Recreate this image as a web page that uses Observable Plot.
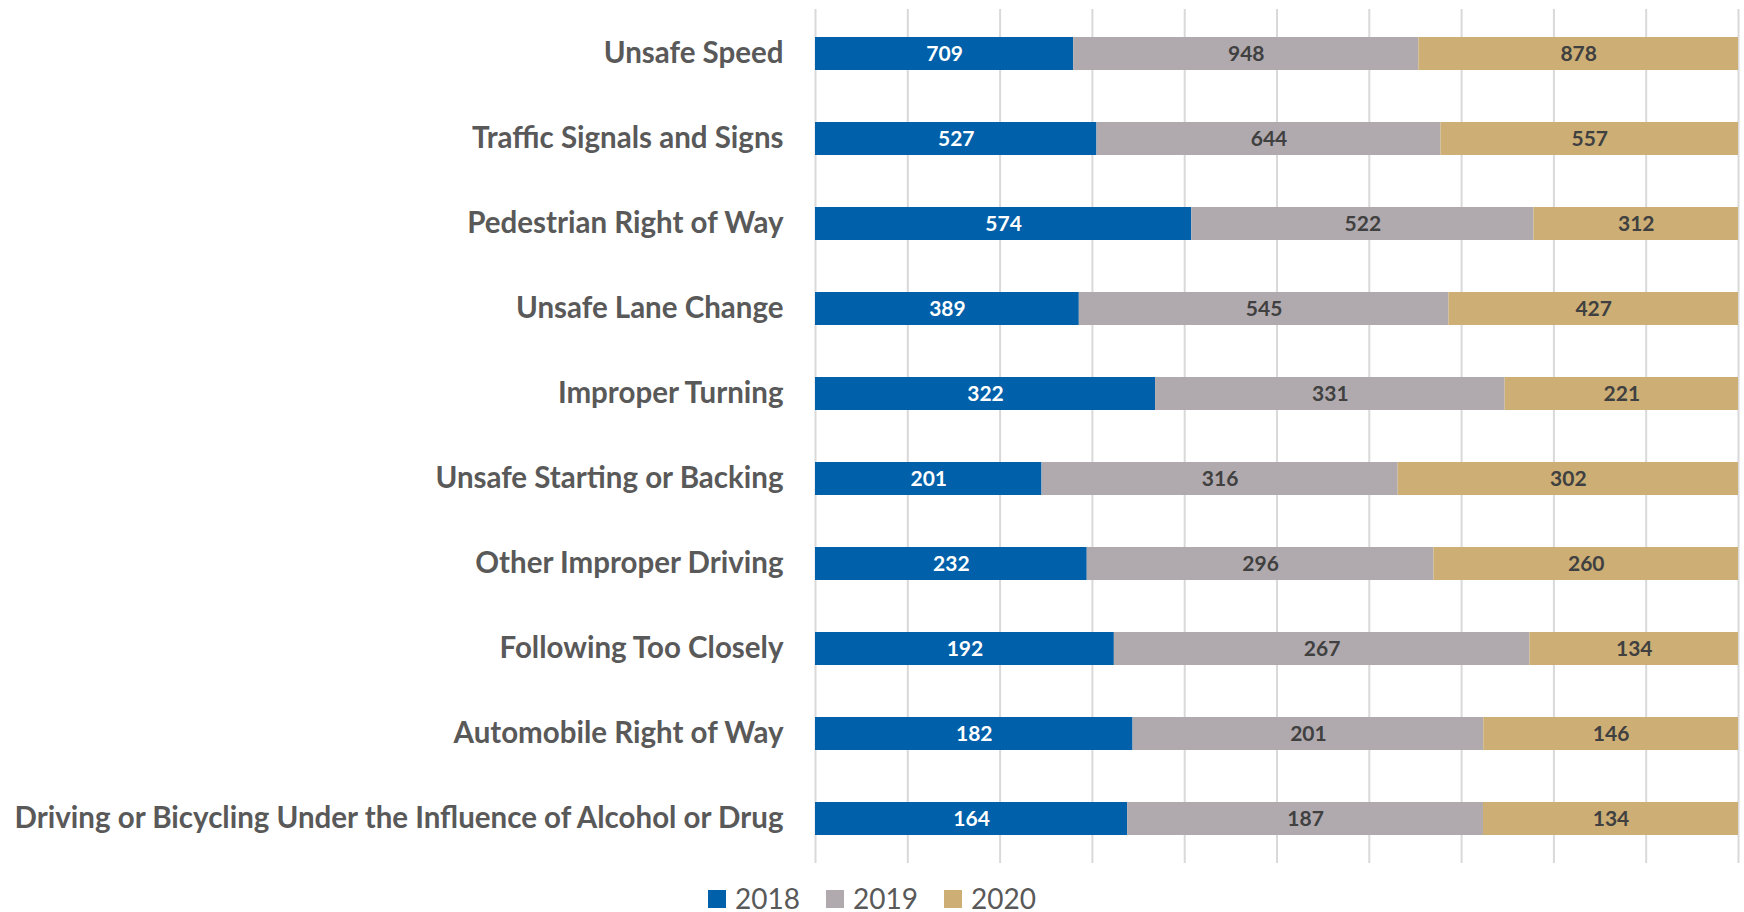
<!DOCTYPE html>
<html>
<head>
<meta charset="utf-8">
<script src="https://cdn.jsdelivr.net/npm/d3@7"></script>
<script src="https://cdn.jsdelivr.net/npm/@observablehq/plot@0.6"></script>
<style>
  html, body { margin: 0; padding: 0; background: #fff; overflow: hidden; }
  #wrap { position: relative; width: 1744px; height: 912px; }
  #legend { position: absolute; left: 0; top: 884px; width: 1744px; height: 28px;
    display: flex; justify-content: center; align-items: center;
    font-family: Lato, sans-serif; font-size: 28px; line-height: 28px; color: #595959; }
  .item { display: flex; align-items: center; margin: 0 13px; height: 28px; }
  .item span { line-height: 28px; display: block; height: 28px; }
  .sw { width: 18px; height: 18px; margin-right: 9px; position: relative; top: 1px; }
</style>
</head>
<body>
<div id="wrap"><div id="chart"></div><div id="legend"></div></div>
<script>
const categories = [
  "Unsafe Speed",
  "Traffic Signals and Signs",
  "Pedestrian Right of Way",
  "Unsafe Lane Change",
  "Improper Turning",
  "Unsafe Starting or Backing",
  "Other Improper Driving",
  "Following Too Closely",
  "Automobile Right of Way",
  "Driving or Bicycling Under the Influence of Alcohol or Drug"
];
const years = ["2018", "2019", "2020"];
const values2018 = [709, 527, 574, 389, 322, 201, 232, 192, 182, 164];
const values2019 = [948, 644, 522, 545, 331, 316, 296, 267, 201, 187];
const values2020 = [878, 557, 312, 427, 221, 302, 260, 134, 146, 134];
const colors = ["#0060A9", "#B0AAAE", "#CDAF76"];
const xTicks = [0, 0.1, 0.2, 0.3, 0.4, 0.5, 0.6, 0.7, 0.8, 0.9, 1];

const series = [values2018, values2019, values2020];
const data = [];
categories.forEach((c, i) => {
  years.forEach((y, j) => data.push({category: c, year: y, value: series[j][i]}));
});

const stack = (extra) => Plot.stackX({x: "value", y: "category", z: "year", offset: "normalize", ...extra});

const chart = Plot.plot({
  width: 1744,
  height: 866,
  marginTop: 9,
  marginBottom: 3,
  marginLeft: 815,
  marginRight: 6,
  style: {fontFamily: "Lato, sans-serif", color: "#595959", background: "white"},
  x: {domain: [0, 1], axis: null},
  y: {domain: categories, paddingInner: 0.61, paddingOuter: 0.305, label: null},
  color: {domain: years, range: colors},
  marks: [
    Plot.ruleX(xTicks, {x: d => d, stroke: "#D9D9D9", strokeWidth: 2}),
    Plot.barX(data, stack({fill: "year"})),
    Plot.text(data, stack({text: d => d.year === "2018" ? String(d.value) : null, fill: "white", fontSize: 21, fontWeight: "bold"})),
    Plot.text(data, stack({text: d => d.year !== "2018" ? String(d.value) : null, fill: "#404040", fontSize: 21, fontWeight: "bold"})),
    Plot.axisY({tickSize: 0, tickPadding: 32, fontSize: 29.5, fontWeight: "bold", label: null})
  ]
});
document.getElementById("chart").appendChild(chart);

const legend = document.getElementById("legend");
years.forEach((y, i) => {
  const it = document.createElement("div");
  it.className = "item";
  const sw = document.createElement("div");
  sw.className = "sw";
  sw.style.background = colors[i];
  const t = document.createElement("span");
  t.textContent = y;
  it.appendChild(sw); it.appendChild(t);
  legend.appendChild(it);
});
</script>
</body>
</html>
